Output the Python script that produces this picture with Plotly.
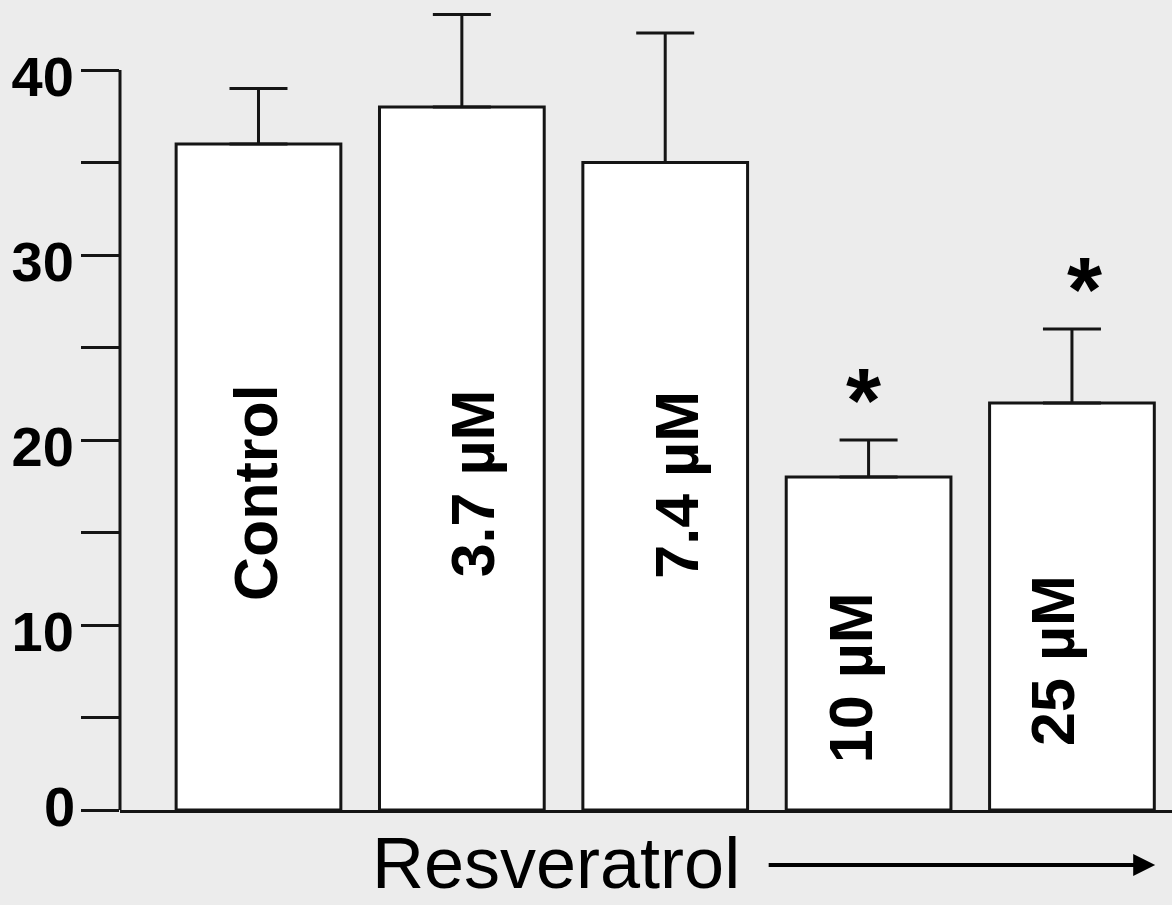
import plotly.graph_objects as go

# Treatment groups and measured values (mean with upward SEM)
groups = ["Control", "3.7 µM", "7.4 µM", "10 µM", "25 µM"]
means = [36, 38, 35, 18, 22]
errors = [3, 5, 7, 2, 4]
significant = [False, False, False, True, True]

y_ticks = [0, 10, 20, 30, 40]
y_tick_text = ["", "10", "20", "30", "40"]   # zero label is placed separately, nudged above the baseline
y_minor_ticks = [5, 15, 25, 35]

# Layout helpers for labels drawn inside the bars
label_y = [17.16, 17.65, 17.6, 7.16, 8.11]
label_xshift = [-3, 12, 12, -18, -19]
star_xshift = [0, 0, 0, -5, 13]

INK = "#151515"
BG = "#ececec"
FAMILY = "Liberation Sans, Arial, Helvetica, sans-serif"
BOLD = dict(family=FAMILY, color="black", weight="bold")

x_pos = list(range(len(groups)))

fig = go.Figure()
fig.add_trace(go.Bar(
    x=x_pos,
    y=means,
    width=0.81,
    marker=dict(color="white", line=dict(color=INK, width=3)),
    error_y=dict(
        type="data", symmetric=False, array=errors,
        arrayminus=[0] * len(errors),
        color=INK, thickness=3, width=29,
    ),
    hoverinfo="skip",
    showlegend=False,
))

annotations = []
for i, name in enumerate(groups):
    annotations.append(dict(
        x=x_pos[i], y=label_y[i], xref="x", yref="y",
        text=name, textangle=-90, showarrow=False,
        xshift=label_xshift[i],
        font=dict(BOLD, size=61),
    ))
    if significant[i]:
        annotations.append(dict(
            x=x_pos[i], y=means[i] + errors[i], xref="x", yref="y",
            text="*", showarrow=False, yanchor="middle",
            xshift=star_xshift[i], yshift=39,
            font=dict(BOLD, size=90),
        ))

# Zero label of the y axis, lifted slightly off the baseline
annotations.append(dict(
    x=0, y=y_ticks[0], xref="paper", yref="y",
    text=str(y_ticks[0]), showarrow=False,
    xanchor="right", yanchor="middle", xshift=-43, yshift=4,
    font=dict(BOLD, size=56),
))

# Axis caption with a rightward arrow
annotations.append(dict(
    x=0.4144, y=-0.0663, xref="paper", yref="paper",
    xanchor="center", yanchor="middle", borderpad=0,
    text="Resveratrol", showarrow=False,
    font=dict(family=FAMILY, size=72, color="black"),
))
annotations.append(dict(
    x=0.984, y=-0.0682, xref="paper", yref="paper",
    ax=-388, ay=0, axref="pixel", ayref="pixel",
    text="", showarrow=True, arrowhead=2, arrowsize=1.1,
    arrowwidth=4, arrowcolor="black",
))

fig.update_layout(
    width=1172, height=905,
    margin=dict(l=120, r=0, t=4, b=95),
    paper_bgcolor=BG, plot_bgcolor=BG,
    annotations=annotations,
    shapes=[dict(
        type="line", xref="paper", yref="y",
        x0=0, x1=0, y0=0, y1=40,
        line=dict(color=INK, width=3),
    )],
    xaxis=dict(
        range=[-0.681, 4.492], showgrid=False, zeroline=False,
        showline=True, linecolor=INK, linewidth=3,
        showticklabels=False, ticks="",
    ),
    yaxis=dict(
        range=[0, 43.57], showgrid=False, zeroline=False, showline=False,
        tickvals=y_ticks, ticktext=y_tick_text,
        ticks="outside", ticklen=38, tickwidth=3, tickcolor=INK,
        tickfont=dict(BOLD, size=56),
        ticklabelstandoff=-4, ticklabelshift=6,
        minor=dict(tickvals=y_minor_ticks, ticks="outside", ticklen=38,
                   tickwidth=3, tickcolor=INK, showgrid=False),
    ),
)

fig.write_html("out.html")
